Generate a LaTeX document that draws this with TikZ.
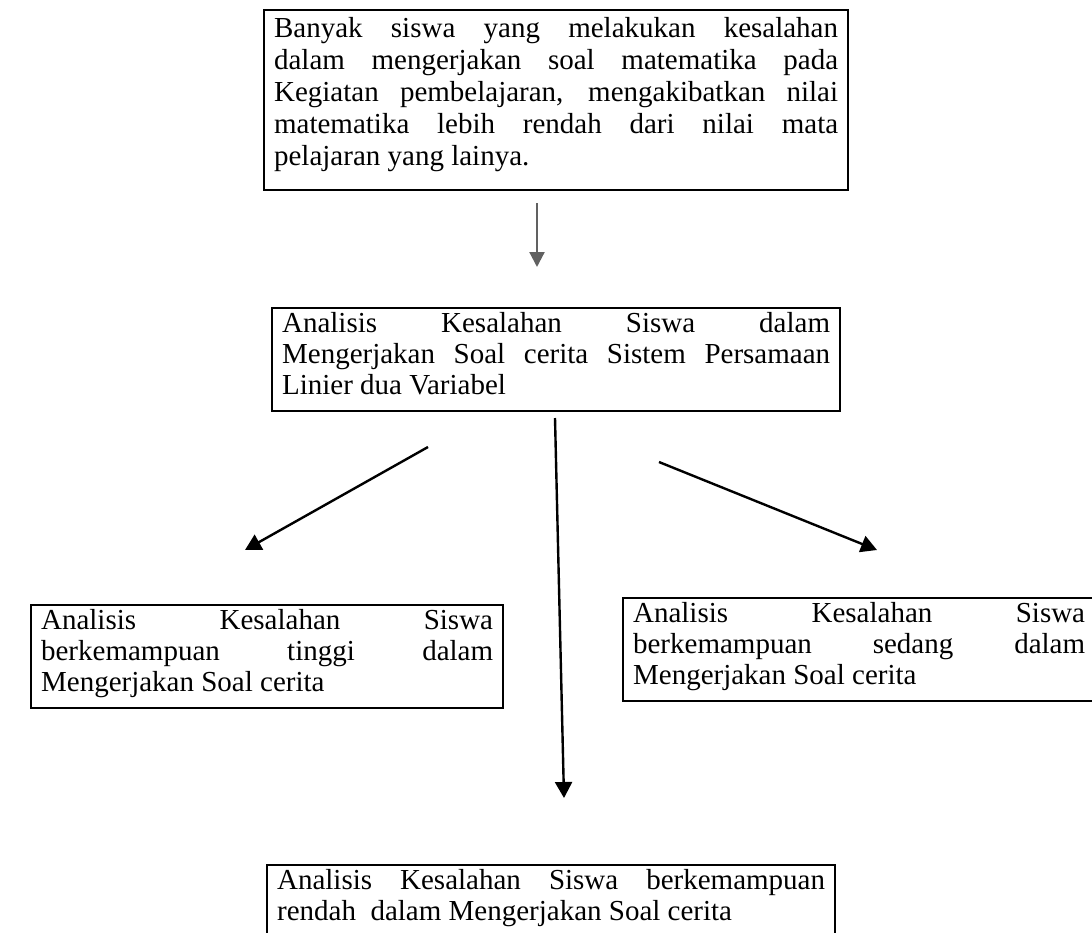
\documentclass[tikz,border=0pt]{standalone}
\usepackage{fontspec}
\setmainfont{Liberation Serif}
\usepackage{tikz}
\usetikzlibrary{arrows.meta}
\setlength{\parindent}{0pt}
\newcommand{\fullline}[1]{\makebox[\hsize][s]{#1}\par}

\begin{document}
\begin{tikzpicture}[x=0.5pt, y=-0.5pt,
    box/.style={draw, line width=1.1pt, anchor=north west, align=justify, inner xsep=5pt, inner ysep=3pt,
                text height=9pt, font=\fontsize{14.5}{15.5}\selectfont},
    arr/.style={-{Triangle[width=8.5pt,length=8pt]}, line width=1.2pt},
    grayarr/.style={-{Triangle[width=7.5pt,length=7.5pt]}, line width=1.1pt, draw=black!62, fill=black!62}]
    \useasboundingbox (0,0) rectangle (1092,932);

    \node[box, text width=282pt, text height=10.5pt, text depth=73.5pt, font=\fontsize{14.5}{16}\selectfont] at (263, 9) (masalah) {%
        \fullline{Banyak siswa yang melakukan kesalahan}
        \fullline{dalam mengerjakan soal matematika pada}
        \fullline{Kegiatan pembelajaran, mengakibatkan nilai}
        \fullline{matematika lebih rendah dari nilai mata}
        pelajaran yang lainya.};
    \node[box, text width=274pt, text depth=36.5pt] at (271, 307) (analisis) {%
        \fullline{Analisis Kesalahan Siswa dalam}
        \fullline{Mengerjakan Soal cerita Sistem Persamaan}
        Linier dua Variabel};
    \node[box, text width=226pt, text depth=36.5pt] at (30, 604) (tinggi) {%
        \fullline{Analisis Kesalahan Siswa}
        \fullline{berkemampuan tinggi dalam}
        Mengerjakan Soal cerita};
    \node[box, text width=226pt, text depth=36.5pt] at (622, 597) (sedang) {%
        \fullline{Analisis Kesalahan Siswa}
        \fullline{berkemampuan sedang dalam}
        Mengerjakan Soal cerita};
    \node[box, text width=274pt, text depth=40pt] at (266, 864) (rendah) {%
        \fullline{Analisis Kesalahan Siswa berkemampuan}
        rendah\ \ dalam Mengerjakan Soal cerita};

    \coordinate (g1) at (537, 203);
    \coordinate (g2) at (537, 267);
    \coordinate (l1) at (428, 447);
    \coordinate (l2) at (245, 550);
    \coordinate (m1) at (555, 418);
    \coordinate (m2) at (564, 798);
    \coordinate (r1) at (659, 462);
    \coordinate (r2) at (877, 550);

    \draw [grayarr] (g1) -- (g2);
    \draw [arr] (l1) -- (l2);
    \draw [arr] (m1) -- (m2);
    \draw [arr] (r1) -- (r2);
\end{tikzpicture}
\end{document}
